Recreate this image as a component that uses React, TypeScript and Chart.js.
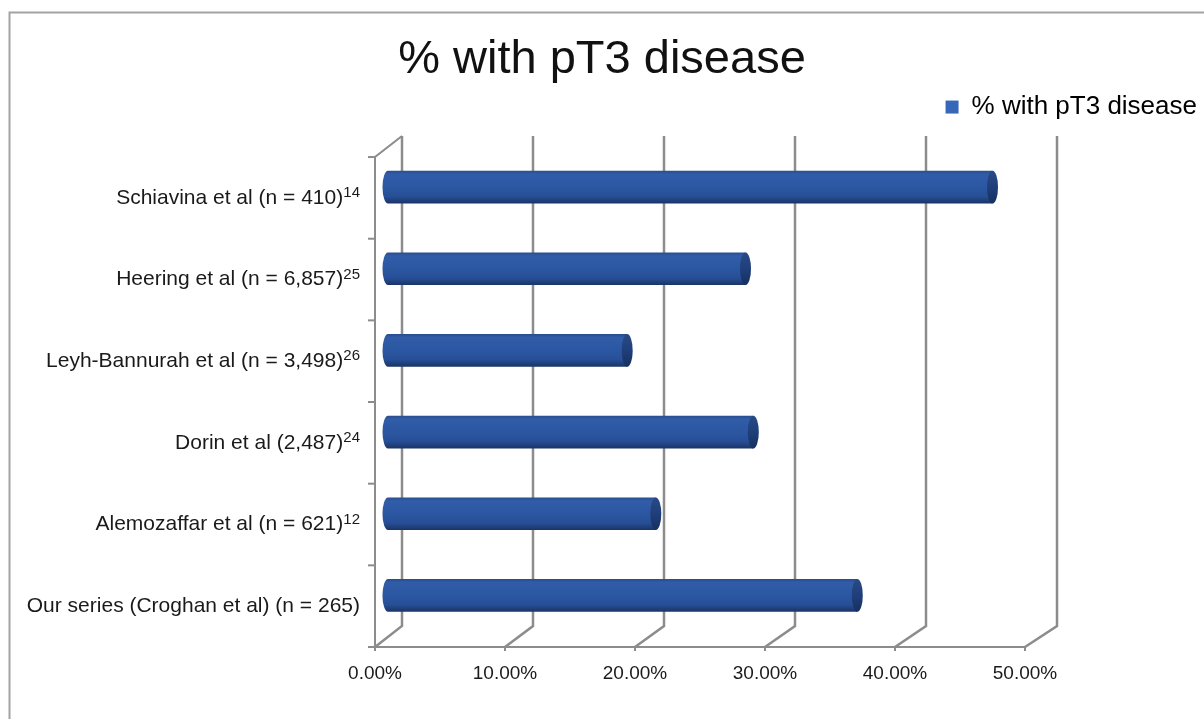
import React, { useEffect, useRef } from 'react';
import { Chart, registerables } from 'chart.js';

Chart.register(...registerables);

// ---- data ----
const categories = [
  'Schiavina et al (n = 410)',
  'Heering et al (n = 6,857)',
  'Leyh-Bannurah et al (n = 3,498)',
  'Dorin et al (2,487)',
  'Alemozaffar et al (n = 621)',
  'Our series (Croghan et al) (n = 265)',
];
const referenceNumbers = ['14', '25', '26', '24', '12', ''];
const pctWithPT3 = [46.5, 27.5, 18.4, 28.1, 20.6, 36.1];
const xTickValues = [0, 10, 20, 30, 40, 50];
const seriesName = '% with pT3 disease';
const chartTitle = '% with pT3 disease';

// ---- style constants ----
const FONT = "'Liberation Sans', Arial, Helvetica, sans-serif";
const Y_FONT_SIZE = 21;
const SUP_FONT_SIZE = 15;
const Y_PADDING = 15;
const DEPTH_X = 27;
const DEPTH_Y = -21;
const PERSP = 0.0077;
const BAR_SHIFT_X = 13;
const BAR_SHIFT_Y = -10.75;
const CAP_RX = 5.5;
const GRID_COLOR = '#8c8c8c';

function bodyGradient(ctx: CanvasRenderingContext2D, cy: number, ry: number) {
  const g = ctx.createLinearGradient(0, cy - ry, 0, cy + ry);
  g.addColorStop(0, '#294c8d');
  g.addColorStop(0.1, '#305ca8');
  g.addColorStop(0.45, '#2c58a3');
  g.addColorStop(0.78, '#274f97');
  g.addColorStop(1, '#1a3465');
  return g;
}

function capGradient(ctx: CanvasRenderingContext2D, cy: number, ry: number) {
  const g = ctx.createLinearGradient(0, cy - ry, 0, cy + ry);
  g.addColorStop(0, '#2a4a86');
  g.addColorStop(0.5, '#1f3f7b');
  g.addColorStop(1, '#16305e');
  return g;
}

const frame3d = {
  id: 'frame3d',
  beforeDraw(chart: any) {
    const { ctx, width, height } = chart;
    ctx.save();
    ctx.fillStyle = '#ffffff';
    ctx.fillRect(0, 0, width, height);
    ctx.strokeStyle = '#a3a3a3';
    ctx.lineWidth = 2;
    ctx.beginPath();
    ctx.moveTo(9.5, height + 4);
    ctx.lineTo(9.5, 12.5);
    ctx.lineTo(width + 4, 12.5);
    ctx.stroke();
    ctx.restore();
  },
  beforeDatasetsDraw(chart: any) {
    const { ctx, chartArea: a, scales } = chart;
    const xs = scales.x;
    const ys = scales.y;
    const back = (x: number, y: number) => [a.left + DEPTH_X + (x - a.left) * (1 + PERSP), y + DEPTH_Y];
    ctx.save();
    ctx.strokeStyle = GRID_COLOR;
    ctx.lineWidth = 2.5;
    ctx.lineJoin = 'miter';
    // back wall gridlines + floor lines
    xTickValues.forEach((v) => {
      const fx = xs.getPixelForValue(v);
      const [bx, bt] = back(fx, a.top);
      const [, bb] = back(fx, a.bottom);
      ctx.beginPath();
      ctx.moveTo(bx, bt);
      ctx.lineTo(bx, bb);
      ctx.lineTo(fx, a.bottom);
      ctx.stroke();
    });
    // front axes
    ctx.lineWidth = 2;
    const [blx, blt] = back(a.left, a.top);
    ctx.beginPath();
    ctx.moveTo(blx, blt);
    ctx.lineTo(a.left, a.top);
    ctx.lineTo(a.left, a.bottom);
    ctx.lineTo(xs.getPixelForValue(xTickValues[xTickValues.length - 1]), a.bottom);
    ctx.stroke();
    // x ticks (downwards)
    xTickValues.forEach((v) => {
      const fx = xs.getPixelForValue(v);
      ctx.beginPath();
      ctx.moveTo(fx, a.bottom);
      ctx.lineTo(fx, a.bottom + 4);
      ctx.stroke();
    });
    // y category boundary ticks
    const band = ys.height / categories.length;
    for (let i = 0; i <= categories.length; i++) {
      const yy =
        i < categories.length
          ? ys.getPixelForValue(i) - band / 2
          : ys.getPixelForValue(categories.length - 1) + band / 2;
      ctx.beginPath();
      ctx.moveTo(a.left - 7, yy);
      ctx.lineTo(a.left, yy);
      ctx.stroke();
    }
    ctx.restore();
    // shift bars to the middle depth of the 3-D box
    ctx.save();
    ctx.translate(BAR_SHIFT_X, BAR_SHIFT_Y);
  },
  afterDatasetsDraw(chart: any) {
    const { ctx } = chart;
    const meta = chart.getDatasetMeta(0);
    meta.data.forEach((el: any) => {
      const { x, y, base, height } = el.getProps(['x', 'y', 'base', 'height'], true);
      const ry = height / 2;
      ctx.beginPath();
      ctx.ellipse(base, y, CAP_RX, ry, 0, Math.PI / 2, Math.PI * 1.5);
      ctx.closePath();
      ctx.fillStyle = bodyGradient(ctx, y, ry);
      ctx.fill();
      ctx.beginPath();
      ctx.ellipse(x, y, CAP_RX, ry, 0, 0, Math.PI * 2);
      ctx.fillStyle = capGradient(ctx, y, ry);
      ctx.fill();
    });
    ctx.restore();
  },
  afterDraw(chart: any) {
    // superscript reference numbers after the category labels
    const { ctx, scales } = chart;
    const ys = scales.y;
    const xRight = ys.right - Y_PADDING;
    ctx.save();
    ctx.font = `${SUP_FONT_SIZE}px ${FONT}`;
    ctx.fillStyle = '#1a1a1a';
    ctx.textAlign = 'right';
    ctx.textBaseline = 'alphabetic';
    referenceNumbers.forEach((r, i) => {
      if (!r) return;
      const cy = ys.getPixelForValue(i);
      ctx.fillText(r, xRight, cy - 1);
    });
    ctx.restore();
  },
};

export default function App() {
  const canvasRef = useRef<HTMLCanvasElement | null>(null);

  useEffect(() => {
    const canvas = canvasRef.current;
    if (!canvas) return;
    const chart = new Chart(canvas, {
      type: 'bar',
      data: {
        labels: categories,
        datasets: [
          {
            label: seriesName,
            data: pctWithPT3,
            clip: false as any,
            categoryPercentage: 0.4,
            barPercentage: 1,
            borderWidth: 0,
            backgroundColor: (c: any) => {
              const ch = c.chart;
              const ys = ch.scales?.y;
              if (!ys || c.type !== 'data' || !ys.height) return '#2b57a2';
              const cy = ys.getPixelForValue(c.dataIndex);
              const ry = ((ys.height / categories.length) * 0.4) / 2;
              return bodyGradient(ch.ctx, cy, ry);
            },
          },
        ],
      },
      options: {
        indexAxis: 'y',
        animation: false,
        responsive: false,
        layout: { padding: 0 },
        plugins: {
          title: {
            display: true,
            text: chartTitle,
            color: '#111111',
            font: { family: FONT, size: 47, weight: 'normal', lineHeight: 1.15 },
            padding: { top: 33, bottom: 0 },
          },
          legend: {
            display: true,
            position: 'top',
            align: 'end',
            labels: {
              boxWidth: 13,
              boxHeight: 13,
              padding: 7,
              color: '#111111',
              font: { family: FONT, size: 26 },
              generateLabels: () => [
                {
                  text: seriesName,
                  fillStyle: '#3767b8',
                  strokeStyle: '#3767b8',
                  lineWidth: 0,
                  hidden: false,
                  datasetIndex: 0,
                },
              ],
            },
          },
          tooltip: { enabled: false },
        },
        scales: {
          x: {
            type: 'linear',
            position: 'bottom',
            min: xTickValues[0],
            max: xTickValues[xTickValues.length - 1],
            afterBuildTicks: (s: any) => {
              s.ticks = xTickValues.map((v) => ({ value: v }));
            },
            afterFit: (s: any) => {
              s.height = 72;
            },
            grid: { display: false, drawTicks: false },
            border: { display: false },
            ticks: {
              padding: 15,
              color: '#1a1a1a',
              font: { family: FONT, size: 19 },
              callback: (v: any) => Number(v).toFixed(2) + '%',
            },
          },
          y: {
            type: 'category',
            position: 'left',
            afterFit: (s: any) => {
              s.width = 375;
            },
            grid: { display: false, drawTicks: false },
            border: { display: false },
            ticks: {
              padding: Y_PADDING,
              color: '#1a1a1a',
              font: { family: FONT, size: Y_FONT_SIZE },
              // thin spaces reserve room for the superscript reference number
              callback: (_v: any, i: number) =>
                categories[i] + (referenceNumbers[i] ? '\u2009\u2009\u2009\u2009' : ''),
            },
          },
          xTopSpacer: {
            type: 'linear',
            position: 'top',
            display: true,
            afterFit: (s: any) => {
              s.height = 27;
            },
            grid: { display: false, drawTicks: false },
            border: { display: false },
            ticks: { display: false },
          },
          yRightSpacer: {
            type: 'linear',
            position: 'right',
            display: true,
            afterFit: (s: any) => {
              s.width = 179;
            },
            grid: { display: false, drawTicks: false },
            border: { display: false },
            ticks: { display: false },
          },
        },
      } as any,
      plugins: [frame3d],
    });
    return () => chart.destroy();
  }, []);

  return (
    <div style={{ position: 'fixed', left: 0, top: 0, width: 1204, height: 719, background: '#ffffff' }}>
      <canvas ref={canvasRef} width={1204} height={719} style={{ display: 'block' }} />
    </div>
  );
}
